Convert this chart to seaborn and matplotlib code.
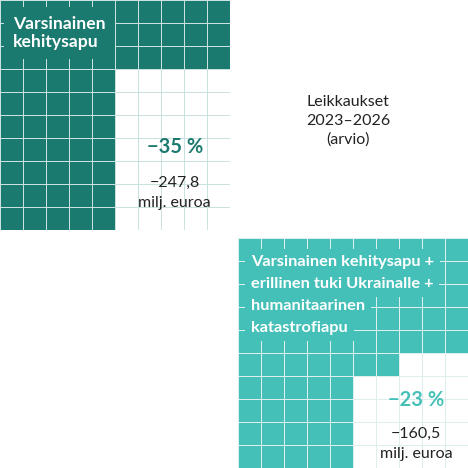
import numpy as np
import matplotlib
matplotlib.use('Agg')
import matplotlib.pyplot as plt
from matplotlib.colors import ListedColormap
import seaborn as sns

# data: two budget categories, share of 10x10 grid that is cut
titles = ['Varsinainen\nkehitysapu',
          'Varsinainen kehitysapu +\nerillinen tuki Ukrainalle +\nhumanitaarinen\nkatastrofiapu']
cut_pct = [35, 23]
cut_meur = [247.8, 160.5]
unit_label = 'milj. euroa'
middle_label = 'Leikkaukset\n2023–2026\n(arvio)'

fill_colors = ['#1b7a6f', '#45c0b8']
line_colors = ['#c9e2df', '#dcefed']
pct_colors = ['#1b7a6f', '#45c0b8']
title_sizes = [12.6, 11.8]

sns.set_style('white')
plt.rcParams['font.family'] = ['Lato', 'DejaVu Sans']


def grid_cells(cut, size=10, cols=5):
    # cut cells fill the right half of the grid from the bottom row up
    m = np.ones((size, size))
    full_rows, rest = divmod(cut, cols)
    for r in range(full_rows):
        m[size - 1 - r, size - cols:] = 0
    if rest:
        m[size - 1 - full_rows, size - rest:] = 0
    return m


def fmt_num(v):
    return '\u2212' + f'{v:.1f}'.replace('.', ',')


fig = plt.figure(figsize=(4.68, 4.68), dpi=100)
s = 230 / 468
axes = [fig.add_axes([0, 1 - s, s, s]),
        fig.add_axes([238 / 468, 0, s, s])]

for i, ax in enumerate(axes):
    m = grid_cells(cut_pct[i])
    sns.heatmap(m, ax=ax, cmap=ListedColormap(['white', fill_colors[i]]),
                vmin=0, vmax=1, cbar=False, linewidths=0.7,
                linecolor=line_colors[i], xticklabels=False, yticklabels=False)
    ax.set_xlim(0, 10)
    ax.set_ylim(10, 0)

    # title with background boxes hiding the grid
    if i == 0:
        ax.text(0.57, 1.45, titles[i], color='white', fontsize=title_sizes[i],
                fontweight='bold', va='center', ha='left', linespacing=1.15,
                bbox=dict(boxstyle='square,pad=0.52', fc=fill_colors[i], ec='none'))
    else:
        for j, line in enumerate(titles[i].split('\n')):
            ax.text(0.57, 1.04 + j * 0.96, line, color='white', fontsize=title_sizes[i],
                    fontweight='bold', va='center', ha='left',
                    bbox=dict(boxstyle='square,pad=0.35', fc=fill_colors[i], ec='none'))

    cx = 7.6 if i == 0 else 7.74
    py = 6.4 if i == 0 else 7.04
    dy = 0 if i == 0 else -0.08
    ax.text(cx, py, f'\u2212{cut_pct[i]} %', color=pct_colors[i], fontsize=14.5,
            fontweight='bold', ha='center', va='center')
    ax.text(cx, py + 1.56 + dy, fmt_num(cut_meur[i]), color='#222222',
            fontsize=11.5, ha='center', va='center')
    ax.text(cx, py + 2.43 + dy, unit_label, color='#222222',
            fontsize=11.5, ha='center', va='center')

fig.text(348 / 468, 1 - 121 / 468, middle_label, ha='center', va='center',
         fontsize=11.5, color='#222222', linespacing=1.4)

fig.savefig('out.png', dpi=100, facecolor='white')
